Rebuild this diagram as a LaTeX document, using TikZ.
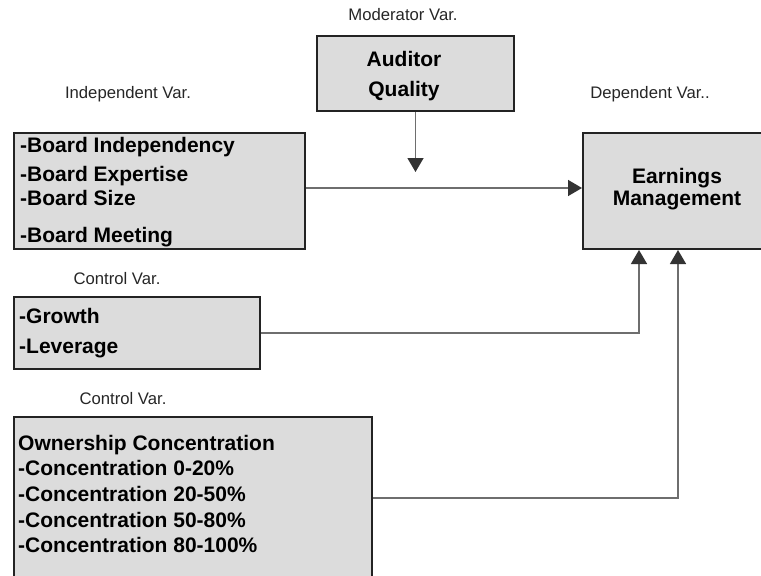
\documentclass[tikz,border=0pt]{standalone}
\usepackage{fontspec}
\setmainfont{Liberation Sans}
\usetikzlibrary{arrows.meta,calc}
\definecolor{boxfill}{HTML}{DCDCDC}
\definecolor{boxline}{HTML}{232323}
\definecolor{wire}{HTML}{6E6E6E}
\definecolor{tipgray}{HTML}{333333}

\begin{document}
\begin{tikzpicture}[x=1pt,y=-1pt,
    box/.style={draw=boxline, line width=2pt, fill=boxfill, anchor=north west, inner sep=0pt},
    item/.style={anchor=base west, inner sep=0pt, font=\fontsize{21}{24}\selectfont\bfseries},
    title/.style={anchor=base, inner sep=0pt, text=black!85, font=\fontsize{16.7}{20}\selectfont},
    link/.style={draw=wire, line width=1.5pt, -{Triangle[length=14pt,width=16pt,color=tipgray]}}]
      \useasboundingbox (0,0) rectangle (761,576);

      \node[box, minimum width=197pt, minimum height=75pt] (mod) at (316,35) {};
      \node[box, minimum width=291pt, minimum height=116pt] (ind) at (13,132) {};
      \node[box, minimum width=190pt, minimum height=116pt] (dep) at (582,132) {};
      \node[box, minimum width=246pt, minimum height=72pt] (ctl1) at (13,296) {};
      \node[box, minimum width=358pt, minimum height=162pt] (ctl2) at (13,416) {};

      \node[title] (lmod) at (403,20) {Moderator Var.};
      \node[title] (lind) at (128,98) {Independent Var.};
      \node[title] (ldep) at (650,98) {Dependent Var..};
      \node[title] (lctl1) at (117,284) {Control Var.};
      \node[title] (lctl2) at (123,404) {Control Var.};

      \node[item, anchor=base] (m1) at (404,66.5) {Auditor};
      \node[item, anchor=base] (m2) at (404,96.5) {Quality};

      \node[item] (i1) at ($(ind.north west)+(7,20)$) {-Board Independency};
      \node[item] (i2) at ($(ind.north west)+(7,49)$) {-Board Expertise};
      \node[item] (i3) at ($(ind.north west)+(7,73)$) {-Board Size};
      \node[item] (i4) at ($(ind.north west)+(7,110)$) {-Board Meeting};

      \node[item, anchor=base] (d1) at (677,183) {Earnings};
      \node[item, anchor=base] (d2) at (677,205) {Management};

      \node[item] (c1) at ($(ctl1.north west)+(6,27)$) {-Growth};
      \node[item] (c2) at ($(ctl1.north west)+(6,57)$) {-Leverage};

      \node[item] (o1) at ($(ctl2.north west)+(5,34)$) {Ownership Concentration};
      \node[item] (o2) at ($(ctl2.north west)+(5,59)$) {-Concentration 0-20\%};
      \node[item] (o3) at ($(ctl2.north west)+(5,85)$) {-Concentration 20-50\%};
      \node[item] (o4) at ($(ctl2.north west)+(5,111)$) {-Concentration 50-80\%};
      \node[item] (o5) at ($(ctl2.north west)+(5,136)$) {-Concentration 80-100\%};

      \coordinate (modend) at ($(mod.south)+(0,60)$);
      \draw[link] (mod.south) -- (modend);
      \draw[link] ([yshift=3pt]ind.east) -- ([yshift=3pt]dep.west);
      \draw[link] (ctl1.east) -| ([xshift=-39pt]dep.south);
      \draw[link] (ctl2.east) -| (dep.south);
    \end{tikzpicture}
\end{document}
